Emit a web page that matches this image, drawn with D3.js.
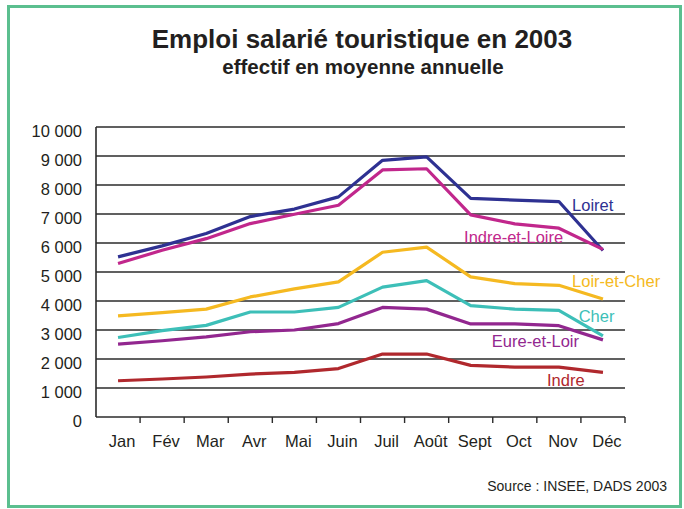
<html>
<head>
  <meta charset="utf-8">
  <script src="https://d3js.org/d3.v7.min.js"></script>
  <style>
    body { margin: 0; background: #fff; }
    text { font-family: Arial, "Liberation Sans", Helvetica, sans-serif; }
  </style>
</head>
<body>
  <div id="plot"></div>
  <script>

    // data (effectif salarié touristique, moyenne mensuelle 2003)
    var months = ["Jan", "Fév", "Mar", "Avr", "Mai", "Juin", "Juil", "Août", "Sept", "Oct", "Nov", "Déc"];
    var yTicks = [0, 1000, 2000, 3000, 4000, 5000, 6000, 7000, 8000, 9000, 10000];

    var loiret        = [5520, 5900, 6330, 6910, 7170, 7590, 8850, 8970, 7540, 7480, 7430, 5740];
    var indreEtLoire  = [5290, 5750, 6150, 6670, 6990, 7300, 8520, 8560, 6970, 6660, 6510, 5780];
    var loirEtCher    = [3490, 3600, 3720, 4140, 4420, 4660, 5680, 5860, 4830, 4600, 4540, 4070];
    var cher          = [2740, 2980, 3160, 3620, 3620, 3780, 4480, 4700, 3840, 3720, 3680, 2800];
    var eureEtLoir    = [2510, 2630, 2760, 2940, 3000, 3220, 3780, 3720, 3210, 3210, 3150, 2660];
    var indre         = [1250, 1310, 1380, 1480, 1540, 1670, 2170, 2170, 1780, 1720, 1720, 1540];

    var series = [
      {name: "Loiret",        values: loiret,       color: "#2e3192", lx: 10.3,  ly: 7110},
      {name: "Indre-et-Loire",values: indreEtLoire, color: "#c1278c", lx: 7.85,  ly: 5990},
      {name: "Loir-et-Cher",  values: loirEtCher,   color: "#f5b921", lx: 10.3,  ly: 4490},
      {name: "Cher",          values: cher,         color: "#3dbfb8", lx: 10.45, ly: 3270},
      {name: "Eure-et-Loir",  values: eureEtLoir,   color: "#92278f", lx: 8.48,  ly: 2420},
      {name: "Indre",         values: indre,        color: "#b0282d", lx: 9.73,  ly: 1080}
    ];

    var W = 684, H = 509;
    var mLeft = 96, mRight = 625, mTop = 127, mBottom = 417;

    var svg = d3.select("#plot").append("svg")
      .attr("width", W)
      .attr("height", H);

    // green frame
    svg.append("rect")
      .attr("x", 8.5).attr("y", 6.5)
      .attr("width", 672).attr("height", 500)
      .attr("fill", "none")
      .attr("stroke", "#5bbf8f")
      .attr("stroke-width", 3);

    // titles
    svg.append("text")
      .attr("x", 362).attr("y", 48)
      .attr("text-anchor", "middle")
      .style("font-size", "26px").style("font-weight", "bold")
      .attr("fill", "#231f20")
      .text("Emploi salarié touristique en 2003");

    svg.append("text")
      .attr("x", 363).attr("y", 74)
      .attr("text-anchor", "middle")
      .style("font-size", "20.5px").style("font-weight", "bold")
      .attr("fill", "#231f20")
      .text("effectif en moyenne annuelle");

    var xBand = d3.scaleBand().domain(months).range([mLeft, mRight]).padding(0);
    var yRange = d3.scaleLinear().domain([0, 10000]).range([mBottom, mTop]);

    var fr = d3.formatLocale({decimal: ",", thousands: " ", grouping: [3], currency: ["", " €"]});
    var fmt = fr.format(",.0f");

    // horizontal grid lines
    svg.append("g").attr("class", "grid")
      .selectAll("line")
      .data(yTicks.filter(function(d) { return d > 0; }))
      .enter().append("line")
      .attr("x1", mLeft).attr("x2", mRight)
      .attr("y1", function(d) { return yRange(d); })
      .attr("y2", function(d) { return yRange(d); })
      .attr("stroke", "#2b2b2b")
      .attr("stroke-width", 1.6);

    // y axis labels
    svg.append("g")
      .selectAll("text")
      .data(yTicks)
      .enter().append("text")
      .attr("x", mLeft - 14)
      .attr("y", function(d) { return yRange(d) + 9.5; })
      .attr("text-anchor", "end")
      .style("font-size", "16.5px")
      .attr("fill", "#231f20")
      .text(function(d) { return fmt(d); });

    // axes lines
    svg.append("line")
      .attr("x1", mLeft).attr("x2", mLeft)
      .attr("y1", mTop).attr("y2", mBottom)
      .attr("stroke", "#2b2b2b").attr("stroke-width", 1.6);

    var xAxis = d3.axisBottom(xBand).tickSize(0).tickFormat("");
    var xg = svg.append("g")
      .attr("class", "x axis")
      .attr("transform", "translate(0," + mBottom + ")")
      .call(xAxis);
    xg.select(".domain").attr("stroke", "#2b2b2b").attr("stroke-width", 1.6)
      .attr("d", "M" + mLeft + ",0H" + mRight);

    // tick marks at month boundaries
    xg.selectAll(".sep")
      .data(months)
      .enter().append("line")
      .attr("class", "sep")
      .attr("x1", function(d) { return xBand(d) + xBand.bandwidth(); })
      .attr("x2", function(d) { return xBand(d) + xBand.bandwidth(); })
      .attr("y1", 0).attr("y2", 6)
      .attr("stroke", "#2b2b2b").attr("stroke-width", 1.4);

    // month labels
    xg.selectAll(".mlab")
      .data(months)
      .enter().append("text")
      .attr("class", "mlab")
      .attr("x", function(d) { return xBand(d) + xBand.bandwidth() / 2 + 4; })
      .attr("y", 30)
      .attr("text-anchor", "middle")
      .style("font-size", "16.5px")
      .attr("fill", "#231f20")
      .text(function(d) { return d; });

    var xPos = function(i) { return xBand(months[i]) + xBand.bandwidth() / 2; };
    var xIdx = d3.scaleLinear().domain([0, 11]).range([xPos(0), xPos(11)]);

    var lineFunc = d3.line()
      .x(function(d, i) { return xPos(i); })
      .y(function(d) { return yRange(d); });

    svg.append("g").selectAll("path")
      .data(series)
      .enter().append("path")
      .attr("d", function(d) { return lineFunc(d.values); })
      .attr("fill", "none")
      .attr("stroke", function(d) { return d.color; })
      .attr("stroke-width", 3.2)
      .attr("stroke-linejoin", "round");

    // series labels
    svg.append("g").selectAll("text")
      .data(series)
      .enter().append("text")
      .attr("x", function(d) { return xIdx(d.lx); })
      .attr("y", function(d) { return yRange(d.ly); })
      .style("font-size", "16.5px")
      .attr("fill", function(d) { return d.color; })
      .text(function(d) { return d.name; });

    // source
    svg.append("text")
      .attr("x", 667).attr("y", 491)
      .attr("text-anchor", "end")
      .style("font-size", "14px")
      .attr("fill", "#231f20")
      .text("Source : INSEE, DADS 2003");
  </script>
</body>
</html>
